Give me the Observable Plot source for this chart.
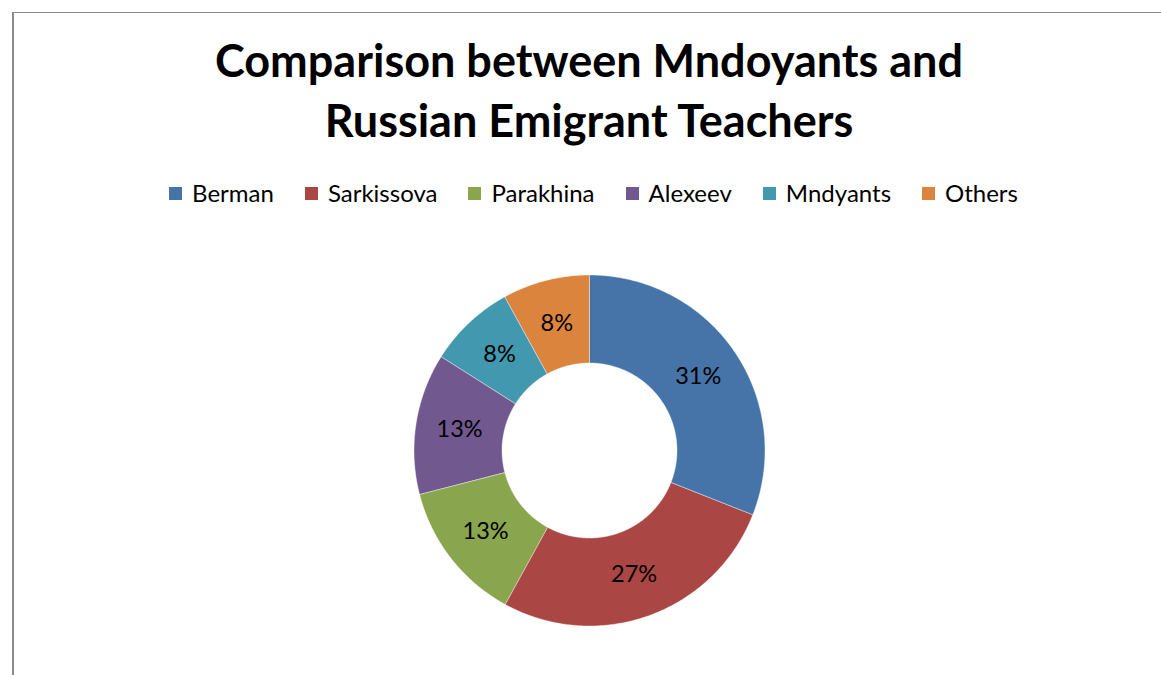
<!DOCTYPE html>
<html>
<head>
<meta charset="utf-8">
<script src="https://cdn.jsdelivr.net/npm/d3@7"></script>
<script src="https://cdn.jsdelivr.net/npm/@observablehq/plot@0.6"></script>
<style>
  html, body { margin: 0; padding: 0; background: #fff; }
  body { width: 1161px; height: 675px; overflow: hidden; position: relative; font-family: Lato, "Open Sans", sans-serif; }
  #frame { position: absolute; left: 12px; top: 12px; width: 2000px; height: 2000px;
           border-left: 2px solid #8a8a8a; border-top: 1.5px solid #8a8a8a; }
  #title { position: absolute; left: 0; width: 1178px; top: 30px; text-align: center;
           font-weight: 700; font-size: 45px; line-height: 60px; color: #000; }
  #legend { position: absolute; left: 0; width: 1187px; top: 179px; display: flex; justify-content: center;
            gap: 31px; font-size: 24px; color: #000; }
  .item { display: flex; align-items: center; gap: 10px; line-height: 28px; }
  .sw { width: 13px; height: 13px; display: inline-block; }
  #chart { position: absolute; left: 409px; top: 270px; }
</style>
</head>
<body>
<div id="frame"></div>
<div id="title">Comparison between Mndoyants and<br>Russian Emigrant Teachers</div>
<div id="legend"></div>
<div id="chart"></div>
<script>
const names = ["Berman", "Sarkissova", "Parakhina", "Alexeev", "Mndyants", "Others"];
const shares = [31, 27, 13, 13, 8, 8];
const colors = ["#4673A8", "#AA4643", "#89A54E", "#71588F", "#4198AF", "#DB843D"];

const R = 175.5, r0 = 87.5, half = 180;
const data = names.map((name, i) => ({name, share: shares[i]}));
const arcs = d3.pie().sort(null).value(d => d.share)(data);

// polygon outline of each ring segment (data units, y up)
const pts = [];
for (const a of arcs) {
  const n = Math.max(8, Math.ceil((a.endAngle - a.startAngle) / 0.01));
  for (let k = 0; k <= n; k++) {
    const t = a.startAngle + (a.endAngle - a.startAngle) * k / n;
    pts.push({name: a.data.name, x: R * Math.sin(t), y: R * Math.cos(t)});
  }
  for (let k = n; k >= 0; k--) {
    const t = a.startAngle + (a.endAngle - a.startAngle) * k / n;
    pts.push({name: a.data.name, x: r0 * Math.sin(t), y: r0 * Math.cos(t)});
  }
}
const rm = (R + r0) / 2;
const labels = arcs.map(a => {
  const m = (a.startAngle + a.endAngle) / 2;
  return {name: a.data.name, label: a.data.share + "%", x: rm * Math.sin(m), y: rm * Math.cos(m)};
});

const chart = Plot.plot({
  width: 2 * half, height: 2 * half,
  margin: 0,
  style: {background: "transparent", overflow: "visible"},
  x: {domain: [-half, half], axis: null},
  y: {domain: [-half, half], axis: null},
  color: {domain: names, range: colors},
  marks: [
    Plot.line(pts, {x: "x", y: "y", z: "name", fill: "name", stroke: "#ffffff", strokeWidth: 0.4, curve: "linear-closed"}),
    Plot.text(labels, {x: "x", y: "y", text: "label", fill: "#000", fontSize: 23.5, fontFamily: "Lato, sans-serif"})
  ]
});
document.getElementById("chart").appendChild(chart);

const color = chart.scale("color");
const legend = document.getElementById("legend");
for (const n of names) {
  const it = document.createElement("div");
  it.className = "item";
  const sw = document.createElement("span");
  sw.className = "sw";
  sw.style.background = color.apply(n);
  const tx = document.createElement("span");
  tx.textContent = n;
  it.appendChild(sw); it.appendChild(tx);
  legend.appendChild(it);
}
</script>
</body>
</html>
